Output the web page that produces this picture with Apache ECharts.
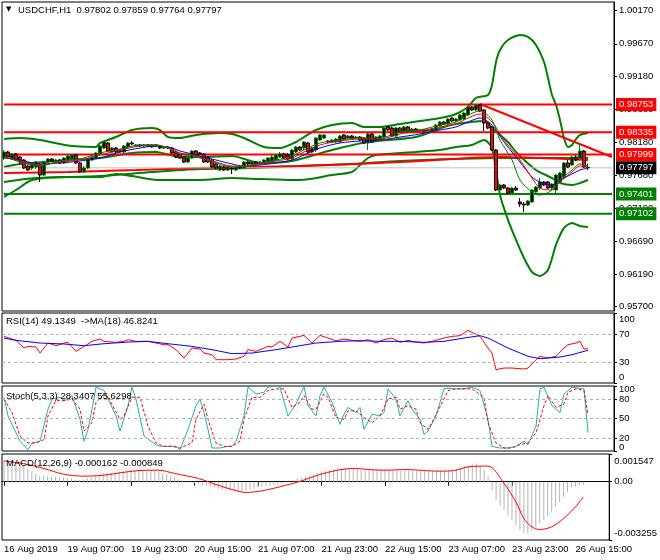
<!DOCTYPE html>
<html><head><meta charset="utf-8">
<script src="https://cdn.jsdelivr.net/npm/echarts@6/dist/echarts.min.js"></script>
<style>html,body{margin:0;padding:0;background:#fff}#c{width:660px;height:560px}</style>
</head><body><div id="c"></div>
<script>
const FONT = 'Liberation Sans';
const FS = 9.5;
const symbolName = 'USDCHF,H1';
const headerOHLC = [0.97802, 0.97859, 0.97764, 0.97797];
const xTickLabels = ['16 Aug 2019','19 Aug 07:00','19 Aug 23:00','20 Aug 15:00','21 Aug 07:00','21 Aug 23:00','22 Aug 15:00','23 Aug 07:00','23 Aug 23:00','26 Aug 15:00'];
const mainTicks = [1.00170,0.99670,0.99180,0.98680,0.98180,0.97680,0.97190,0.96690,0.96190,0.95700];
const rsiTicks = [100,70,30,0];
const rsiLevels = [70,30];
const stochEdgeTicks = [100,0];
const stochLevels = [80,50,20];
const macdTicks = [0.001547,0,-0.003255];
const slotCount = 153;
const redLevels = [0.98753, 0.98335, 0.97999];
const greenLevels = [0.97401, 0.97102];
const rsiText = 'RSI(14) 49.1349  ->MA(18) 46.8241';
const stochText = 'Stoch(5,3,3) 28.3407 55.6298';
const macdText = 'MACD(12,26,9) -0.000162 -0.000849';

// candles: [open, close, low, high]
const candles = [
[.97945,.98036,.97915,.98066],[.98036,.97960,.97945,.98051],[.97930,.98006,.97915,.98021],[.98006,.97915,.97900,.98021],
[.97960,.97885,.97855,.97976],[.97915,.97794,.97779,.97930],[.97824,.97764,.97749,.97840],[.97794,.97855,.97764,.97870],
[.97809,.97885,.97779,.97900],[.97840,.97688,.97583,.97870],[.97688,.97885,.97673,.97900],[.97885,.97930,.97870,.97945],
[.97930,.97900,.97885,.97945],[.97885,.97915,.97870,.97930],[.97915,.97870,.97855,.97930],[.97870,.97945,.97855,.97960],
[.97915,.97976,.97885,.97991],[.97930,.97991,.97915,.98006],[.97991,.97870,.97855,.98006],[.97870,.97734,.97719,.97885],
[.97734,.97794,.97719,.97824],[.97794,.97930,.97779,.97945],[.97915,.97960,.97900,.97976],[.97945,.98021,.97930,.98036],
[.98006,.98127,.97991,.98142],[.98096,.98187,.98081,.98202],[.98172,.98051,.98036,.98187],[.98036,.98096,.98021,.98111],
[.98096,.98036,.98021,.98111],[.98036,.98066,.98021,.98081],[.98036,.98127,.98021,.98142],[.98111,.98172,.98096,.98187],
[.98172,.98157,.98142,.98202],[.98127,.98142,.98111,.98157],[.98142,.98127,.98111,.98157],[.98127,.98142,.98111,.98157],
[.98142,.98127,.98111,.98157],[.98111,.98142,.98096,.98157],[.98142,.98127,.98111,.98157],[.98127,.98096,.98081,.98142],
[.98096,.98111,.98081,.98127],[.98111,.98096,.98081,.98127],[.98096,.98021,.98006,.98111],[.98036,.97960,.97945,.98051],
[.98006,.97945,.97930,.98021],[.97960,.97885,.97870,.97976],[.97885,.97945,.97870,.97960],[.97945,.98051,.97930,.98066],
[.98051,.97991,.97976,.98066],[.98021,.98006,.97991,.98036],[.98006,.97885,.97870,.98021],[.97960,.97885,.97870,.97976],
[.97915,.97809,.97794,.97930],[.97855,.97794,.97779,.97870],[.97764,.97824,.97749,.97840],[.97809,.97764,.97749,.97824],
[.97764,.97809,.97749,.97824],[.97794,.97779,.97704,.97809],[.97764,.97809,.97749,.97824],[.97809,.97794,.97779,.97824],
[.97794,.97885,.97779,.97900],[.97885,.97855,.97840,.97900],[.97855,.97885,.97840,.97900],[.97885,.97855,.97840,.97900],
[.97855,.97885,.97840,.97900],[.97870,.97915,.97855,.97930],[.97885,.97945,.97870,.97960],[.97885,.97960,.97870,.97991],
[.97915,.97991,.97900,.98006],[.97960,.98006,.97945,.98036],[.98006,.97945,.97930,.98021],[.97991,.97930,.97915,.98021],
[.97930,.98066,.97915,.98081],[.98036,.98111,.98021,.98127],[.98111,.98066,.98051,.98127],[.98096,.98187,.98066,.98202],
[.98172,.98036,.98021,.98187],[.98036,.98096,.98021,.98111],[.98066,.98247,.98036,.98262],[.98217,.98293,.98202,.98308],
[.98247,.98293,.98232,.98308],[.98202,.98187,.98172,.98217],[.98187,.98217,.98172,.98232],[.98187,.98232,.98172,.98247],
[.98187,.98278,.98172,.98293],[.98293,.98232,.98217,.98308],[.98247,.98278,.98232,.98293],[.98278,.98247,.98232,.98293],
[.98247,.98262,.98232,.98278],[.98262,.98217,.98202,.98278],[.98247,.98172,.98157,.98262],[.98172,.98308,.98066,.98323],
[.98308,.98187,.98172,.98323],[.98202,.98262,.98187,.98278],[.98217,.98278,.98202,.98293],[.98262,.98398,.98247,.98429],
[.98414,.98368,.98353,.98429],[.98398,.98278,.98262,.98414],[.98278,.98398,.98262,.98414],[.98398,.98338,.98323,.98414],
[.98338,.98414,.98323,.98429],[.98414,.98338,.98323,.98429],[.98338,.98383,.98323,.98398],[.98383,.98353,.98338,.98398],
[.98353,.98368,.98338,.98383],[.98368,.98353,.98338,.98383],[.98353,.98368,.98323,.98383],[.98353,.98383,.98338,.98398],
[.98368,.98444,.98353,.98459],[.98429,.98489,.98414,.98504],[.98489,.98459,.98444,.98504],[.98459,.98534,.98444,.98549],
[.98549,.98504,.98489,.98565],[.98504,.98534,.98489,.98549],[.98519,.98595,.98504,.98610],[.98534,.98625,.98519,.98640],
[.98595,.98716,.98580,.98731],[.98716,.98670,.98655,.98731],[.98670,.98746,.98655,.98761],[.98746,.98655,.98640,.98761],
[.98670,.98474,.98353,.98685],[.98474,.98398,.98383,.98489],[.98414,.98066,.98051,.98429],[.98066,.97462,.97447,.98081],
[.97462,.97537,.97447,.97552],[.97537,.97492,.97477,.97552],[.97492,.97416,.97401,.97507],[.97416,.97492,.97386,.97507],
[.97492,.97462,.97447,.97522],[.97281,.97250,.97205,.97341],[.97250,.97235,.97130,.97281],[.97235,.97296,.97220,.97311],
[.97281,.97462,.97266,.97477],[.97432,.97507,.97416,.97522],[.97492,.97583,.97462,.97643],[.97583,.97537,.97522,.97598],
[.97583,.97492,.97477,.97598],[.97492,.97552,.97462,.97568],[.97462,.97688,.97386,.97704],[.97583,.97719,.97568,.97734],
[.97658,.97870,.97643,.97885],[.97870,.97809,.97794,.97915],[.97840,.97960,.97824,.97976],[.97960,.97915,.97900,.97991],
[.97945,.98051,.97930,.98157],[.98051,.97809,.97794,.98066]
];

// [bar index, value] pairs
const bbUpper = [[0,.98232],[4,.98247],[9,.98217],[14,.98157],[17,.98127],[23,.98111],[24,.98172],[28,.98262],[32,.98368],[37,.98398],[39,.98368],[41,.98262],[44,.98247],[48,.98293],[54,.98323],[57,.98308],[60,.98247],[65,.98111],[69,.98096],[73,.98187],[75,.98262],[78,.98368],[82,.98444],[87,.98474],[90,.98414],[94,.98414],[99,.98459],[104,.98504],[109,.98549],[113,.98610],[116,.98716],[118,.98852],[121,.98897],[122,.99048],[123,.99395],[124,.99577],[126,.99728],[129,.99803],[131,.99773],[133,.99652],[135,.99395],[136,.99154],[137,.98897],[138,.98746],[139,.98519],[140,.98247],[141,.98111],[142,.98142],[143,.98232],[144,.98293],[146,.98323]];
const bbMiddle = [[0,.97810],[4,.97855],[10,.97885],[16,.97915],[24,.97945],[32,.98021],[38,.98036],[44,.97960],[49,.97960],[57,.97976],[64,.97870],[72,.97900],[82,.98066],[91,.98187],[103,.98262],[110,.98414],[113,.98459],[120,.98504],[122,.98398],[126,.98187],[128,.98036],[133,.97764],[137,.97643],[139,.97568],[142,.97537],[144,.97568],[146,.97613]];
const bbLower = [[0,.97357],[3,.97462],[7,.97613],[16,.97658],[24,.97658],[28,.97704],[32,.97673],[39,.97613],[49,.97613],[57,.97643],[64,.97628],[72,.97613],[74,.97613],[82,.97688],[87,.97734],[89,.97840],[91,.97945],[93,.97991],[103,.98036],[109,.98066],[113,.98111],[117,.98142],[120,.98217],[122,.98096],[124,.97386],[126,.97010],[128,.96708],[130,.96436],[132,.96224],[134,.96164],[136,.96255],[138,.96632],[140,.96889],[142,.96964],[144,.96919],[146,.96904]];
const longGreen = [[0,.97583],[8,.97643],[24,.97673],[37,.97734],[49,.97779],[62,.97794],[74,.97824],[87,.97855],[99,.97900],[112,.97930],[124,.97945],[137,.97945],[146,.97945]];
const longRed = [[0,.97719],[16,.97734],[33,.97764],[49,.97794],[74,.97824],[99,.97885],[112,.97930],[124,.97960],[134,.97945],[146,.97915]];
const maBlue = [[0,.97945],[4,.97915],[9,.97855],[14,.97870],[19,.97900],[24,.97945],[29,.98036],[34,.98096],[38,.98127],[42,.98096],[44,.98051],[47,.98006],[49,.97976],[53,.97915],[57,.97855],[60,.97824],[64,.97840],[68,.97870],[72,.97915],[75,.97991],[79,.98096],[84,.98172],[89,.98202],[94,.98217],[99,.98262],[104,.98308],[109,.98368],[113,.98414],[116,.98489],[119,.98549],[122,.98444],[125,.98187],[129,.97885],[132,.97658],[134,.97583],[137,.97537],[139,.97613],[142,.97704],[144,.97764],[146,.97794]];
const maRed = [[0,.97960],[4,.97900],[9,.97840],[14,.97885],[19,.97915],[24,.97991],[29,.98066],[34,.98127],[38,.98142],[42,.98081],[44,.98021],[47,.97991],[49,.97960],[53,.97885],[57,.97824],[60,.97824],[64,.97855],[68,.97900],[72,.97945],[75,.98036],[79,.98142],[84,.98202],[89,.98232],[94,.98232],[99,.98308],[104,.98353],[109,.98414],[113,.98459],[116,.98549],[119,.98610],[122,.98489],[125,.98217],[129,.97915],[132,.97643],[134,.97492],[137,.97462],[139,.97583],[142,.97734],[144,.97824],[146,.97809]];
const maGreen = [[0,.97976],[4,.97885],[9,.97824],[14,.97900],[19,.97930],[24,.98021],[29,.98081],[34,.98142],[38,.98142],[42,.98066],[44,.98006],[47,.97976],[49,.97945],[53,.97870],[57,.97809],[60,.97824],[64,.97870],[68,.97915],[72,.97976],[75,.98066],[79,.98172],[84,.98217],[89,.98247],[94,.98247],[99,.98338],[104,.98368],[109,.98444],[113,.98489],[116,.98595],[119,.98655],[122,.98519],[124,.98217],[127,.97915],[129,.97613],[132,.97432],[134,.97386],[137,.97462],[139,.97613],[142,.97764],[144,.97855],[146,.97824]];
const trendLine = [[119,.98761],[152,.97960]];

const rsiLine = [[0,66.6],[2,62.8],[3,60.9],[5,50.0],[6,52.3],[8,51.4],[9,42.8],[11,57.1],[13,53.3],[15,57.1],[16,58.1],[18,45.2],[20,52.3],[22,59.5],[24,62.8],[25,59.5],[28,58.1],[30,59.5],[31,61.9],[33,59.5],[36,59.5],[38,57.1],[40,54.7],[41,54.7],[43,47.6],[45,35.7],[47,50.0],[49,48.5],[50,42.8],[52,40.4],[53,33.3],[56,33.3],[58,34.3],[60,38.1],[61,47.6],[63,45.2],[66,52.3],[67,51.4],[69,59.5],[71,51.4],[72,64.2],[75,68.0],[77,57.1],[79,68.0],[81,64.2],[83,60.4],[85,62.8],[87,60.9],[89,59.5],[91,61.9],[93,57.1],[95,61.9],[97,64.2],[99,58.1],[101,60.9],[103,58.5],[105,57.1],[107,59.5],[110,64.2],[112,66.6],[114,67.6],[116,75.2],[117,72.3],[119,66.6],[121,50.0],[122,42.8],[123,19.0],[125,21.4],[127,21.4],[130,20.0],[131,21.4],[133,33.3],[134,38.1],[136,35.7],[138,38.1],[140,50.0],[141,54.7],[143,57.1],[144,59.5],[145,48.5],[146,49.13]];
const rsiMa = [[0,64.2],[3,60.9],[9,57.1],[15,55.7],[20,53.3],[25,56.1],[31,58.5],[36,59.5],[41,56.1],[47,52.3],[52,47.6],[57,41.9],[62,42.8],[68,47.6],[73,52.3],[78,57.1],[84,59.5],[89,60.4],[94,59.5],[99,59.5],[105,58.1],[110,59.5],[115,64.2],[119,67.6],[121,64.2],[126,50.0],[131,38.1],[134,34.7],[139,37.1],[142,40.4],[145,45.2],[146,46.82]];
const stochK = [[0,82.6],[1,54.0],[3,28.0],[4,15.0],[6,2.0],[7,12.4],[9,15.0],[11,64.4],[12,80.0],[14,82.6],[15,77.4],[16,80.0],[17,85.2],[19,48.8],[20,15.0],[21,33.2],[22,64.4],[23,98.2],[25,93.0],[26,80.0],[28,54.0],[29,30.6],[31,69.6],[32,98.2],[33,80.0],[35,22.8],[38,9.8],[39,7.2],[41,7.2],[43,7.2],[44,2.0],[46,33.2],[48,69.6],[49,80.0],[50,59.2],[51,33.2],[52,4.6],[54,4.6],[56,7.2],[57,7.2],[58,15.0],[60,54.0],[61,98.2],[63,87.8],[65,90.4],[66,98.2],[68,99.8],[69,98.2],[71,54.0],[73,72.2],[75,99.8],[76,69.6],[78,54.0],[79,85.2],[80,98.2],[82,74.8],[84,41.0],[85,56.6],[86,67.0],[88,59.2],[89,67.0],[90,33.2],[92,56.6],[94,54.0],[95,59.2],[96,95.6],[98,80.0],[99,54.0],[101,77.4],[102,64.4],[104,48.8],[105,25.4],[106,30.6],[108,54.0],[110,95.6],[111,96.6],[113,95.6],[115,95.6],[117,98.2],[119,93.0],[121,48.8],[122,7.2],[124,4.6],[126,4.6],[128,7.2],[130,15.0],[131,9.8],[133,38.4],[134,95.6],[135,98.2],[137,69.6],[139,59.2],[140,87.8],[142,98.2],[143,97.2],[145,95.6],[146,28.34]];
const stochD = [[0,80.0],[2,59.2],[4,22.8],[6,12.4],[8,12.4],[10,17.6],[11,54.0],[13,77.4],[15,77.4],[17,80.0],[19,64.4],[20,30.6],[22,43.6],[23,74.8],[25,87.8],[26,82.6],[29,48.8],[30,54.0],[32,82.6],[34,82.6],[36,38.4],[38,12.4],[40,7.2],[42,7.2],[44,4.6],[47,12.4],[48,48.8],[50,72.2],[51,48.8],[53,12.4],[55,7.2],[57,7.2],[59,15.0],[60,48.8],[62,82.6],[64,82.6],[66,93.0],[68,95.6],[70,95.6],[72,67.0],[74,74.8],[75,85.2],[77,64.4],[78,64.4],[80,87.8],[81,82.6],[83,51.4],[85,48.8],[86,61.8],[88,61.8],[90,51.4],[92,43.6],[94,54.0],[96,80.0],[98,82.6],[99,64.4],[101,69.6],[103,64.4],[104,43.6],[106,33.2],[107,43.6],[110,80.0],[111,93.0],[113,95.6],[115,95.6],[117,95.6],[120,82.6],[121,43.6],[123,12.4],[125,4.6],[127,4.6],[129,9.8],[131,12.4],[133,28.0],[135,69.6],[136,85.2],[138,67.0],[140,72.2],[141,90.4],[143,95.6],[145,93.0],[146,55.63]];
const macdHist = [
0.00120,0.00116,0.00111,0.00107,0.00096,0.00087,0.00070,0.00059,0.00046,0.00035,
0.00033,0.00031,0.00029,0.00027,0.00025,0.00023,0.00020,0.00018,0.00012,0.00008,
0.00012,0.00018,0.00023,0.00029,0.00036,0.00046,0.00049,0.00051,0.00053,0.00055,
0.00057,0.00061,0.00064,0.00068,0.00068,0.00066,0.00064,0.00062,0.00061,0.00057,
0.00049,0.00042,0.00031,0.00023,0.00014,0.00005,0.00002,-0.00001,-0.00008,-0.00012,
-0.00018,-0.00021,-0.00027,-0.00032,-0.00038,-0.00044,-0.00047,-0.00051,-0.00053,-0.00055,
-0.00053,-0.00049,-0.00044,-0.00040,-0.00034,-0.00030,-0.00027,-0.00023,-0.00019,-0.00016,
-0.00010,-0.00005,0.00001,0.00008,0.00018,0.00023,0.00029,0.00035,0.00042,0.00049,
0.00057,0.00061,0.00064,0.00068,0.00072,0.00074,0.00074,0.00074,0.00072,0.00070,
0.00066,0.00064,0.00066,0.00068,0.00068,0.00070,0.00070,0.00066,0.00064,0.00062,
0.00061,0.00062,0.00064,0.00062,0.00061,0.00061,0.00061,0.00062,0.00064,0.00062,
0.00061,0.00062,0.00064,0.00068,0.00072,0.00079,0.00087,0.00092,0.00098,0.00101,
0.00087,0.00064,0.00027,-0.00047,-0.00103,-0.00131,-0.00159,-0.00187,-0.00215,-0.00243,
-0.00271,-0.00286,-0.00289,-0.00274,-0.00256,-0.00234,-0.00215,-0.00192,-0.00168,-0.00140,
-0.00113,-0.00085,-0.00057,-0.00032,-0.00022,-0.00018,-0.000162];
const macdSignal = [[0,0.00116],[5,0.00101],[10,0.00074],[15,0.00042],[20,0.00031],[25,0.00036],[31,0.00055],[36,0.00064],[39,0.00064],[43,0.00046],[49,0.00018],[54,-0.00020],[58,-0.00047],[61,-0.00060],[65,-0.00051],[71,-0.00020],[75,0.00005],[79,0.00036],[84,0.00064],[88,0.00074],[92,0.00068],[96,0.00064],[101,0.00068],[105,0.00064],[109,0.00059],[113,0.00061],[117,0.00083],[122,0.00087],[126,-0.00010],[129,-0.00113],[131,-0.00206],[133,-0.00252],[135,-0.00267],[138,-0.00252],[141,-0.00206],[144,-0.00140],[146,-0.000849]];

const allCandles = candles.concat([[headerOHLC[0], headerOHLC[3], headerOHLC[2], headerOHLC[1]]]);
const slots = [];
for (let i = 0; i < slotCount; i++) slots.push(String(i));

const G = [
  {top:2, height:309},
  {top:313, height:70},
  {top:386, height:65},
  {top:454, height:86}
];
const isTick = (idx) => idx % 16 === 0;

const txt = {fontFamily: FONT, fontSize: FS, color: '#000'};
function xAx(k, show) {
  return {
    type:'category', gridIndex:k, data:slots, boundaryGap:true,
    axisLine:{show:show, lineStyle:{color:'#000'}},
    axisTick:{show:show, alignWithLabel:true, interval:(i)=>isTick(i), length:4, lineStyle:{color:'#000'}},
    axisLabel:{show:show, interval:(i)=>isTick(i), formatter:(v, i)=>xTickLabels[i/16] || '', align:'left', margin:4, ...txt},
    splitLine:{show:false}
  };
}
function yAx(k, min, max, ticks, fmt, lh, lineShow) {
  return {
    type:'value', gridIndex:k, position:'right', min:min, max:max,
    axisLine:{show:lineShow !== false, lineStyle:{color:'#000'}},
    axisTick:{show:true, length:3, customValues:ticks, lineStyle:{color:'#000'}},
    axisLabel:{show:true, customValues:ticks, formatter:fmt, margin:5, lineHeight:lh, showMinLabel:true, showMaxLabel:true, ...txt},
    splitLine:{show:false}
  };
}
const edgeFmt = (top, bot, f) => (v) => v === top ? '\n' + f(v) : (v === bot ? f(v) + '\n' : f(v));

function ln(name, data, color, width, xi, extra) {
  return Object.assign({
    name:name, type:'line', data:data, xAxisIndex:xi, yAxisIndex:xi,
    showSymbol:false, symbol:'none', lineStyle:{color:color, width:width}, itemStyle:{color:color},
    silent:true, animation:false, z:2
  }, extra || {});
}
// horizontal price levels, each as its own line across the plot with a price tag at the right
function level(v, color, tagBg, width) {
  return ln('level ' + v, [[0, v], [slotCount - 1, v]], color, width, 0, {
    clip:false,
    endLabel:{show:true, formatter:v.toFixed(5), backgroundColor:tagBg, color:'#fff',
              padding:[2,3,1,3], distance:4, fontFamily:FONT, fontSize:FS}
  });
}
const dashed = (vals) => ({
  symbol:'none', silent:true, animation:false,
  lineStyle:{color:'#b0b0b0', type:[3,3], width:1},
  label:{show:false},
  data: vals.map(v => ({yAxis:v}))
});

const option = {
  animation:false,
  backgroundColor:'#fff',
  textStyle:{fontFamily:FONT},
  title:[
    {text:'\u25BC', left:6, top:6, padding:0, textStyle:{fontFamily:'DejaVu Sans', fontSize:7, fontWeight:'normal', color:'#000'}},
    {text:symbolName + '  ' + headerOHLC.map(v=>v.toFixed(5)).join(' '), left:18, top:5, padding:0, textStyle:{...txt, fontWeight:'normal'}},
    {text:rsiText, left:6, top:316, padding:0, textStyle:{...txt, fontWeight:'normal'}},
    {text:stochText, left:6, top:391, padding:0, textStyle:{...txt, fontWeight:'normal'}},
    {text:macdText, left:6, top:458, padding:0, textStyle:{...txt, fontWeight:'normal'}}
  ],
  grid: G.map(g => ({left:2, width:612, top:g.top, height:g.height, show:true, borderColor:'#000', borderWidth:1, backgroundColor:'#fff'})),
  xAxis:[xAx(0,false), xAx(1,false), xAx(2,false), xAx(3,true)],
  yAxis:[
    yAx(0, 0.95635, 1.00301, mainTicks, (v)=>v.toFixed(5), 12),
    yAx(1, 0, 100, rsiTicks, edgeFmt(100, 0, String), 12),
    yAx(2, 0, 100, stochLevels, String, 12),
    yAx(3, -0.003255, 0.001547, macdTicks, edgeFmt(0.001547, -0.003255, (v)=> v === 0 ? '0.00' : v.toFixed(6)), 14),
    yAx(2, 0, 100, stochEdgeTicks, edgeFmt(100, 0, String), 7, false)
  ],
  series:[
    ln('BB upper', bbUpper, '#008000', 2, 0, {smooth:0.25}),
    ln('BB middle', bbMiddle, '#008000', 2, 0, {smooth:0.25}),
    ln('BB lower', bbLower, '#008000', 2, 0, {smooth:0.25}),
    ln('Long MA green', longGreen, '#008000', 2, 0, {smooth:0.3}),
    ln('Long MA red', longRed, '#ff0000', 2, 0, {smooth:0.3}),
    level(headerOHLC[3], '#c0c0c0', '#000000', 1)
  ].concat(redLevels.map(v => level(v, '#ff0000', '#ff0000', 2)))
   .concat(greenLevels.map(v => level(v, '#008000', '#008000', 2)))
   .concat([
    ln('Trend', trendLine, '#ff0000', 2, 0),
    {
      name:'USDCHF', type:'candlestick', data:allCandles, xAxisIndex:0, yAxisIndex:0,
      barWidth:3, silent:true, animation:false, z:3,
      itemStyle:{color:'#000000', color0:'#ff0000', borderColor:'#008000', borderColor0:'#000000', borderWidth:1}
    },
    ln('MA blue', maBlue, '#0000ff', 1, 0, {smooth:0.3, z:4}),
    ln('MA red', maRed, '#ff0000', 1, 0, {smooth:0.3, z:4}),
    ln('MA green', maGreen, '#008000', 1, 0, {smooth:0.3, z:4}),

    ln('RSI', rsiLine, '#ff0000', 1, 1, {markLine:dashed(rsiLevels)}),
    ln('RSI MA', rsiMa, '#0000ff', 1, 1),

    ln('Stoch main', stochK, '#20b2aa', 1, 2, {markLine:dashed(stochLevels)}),
    ln('Stoch signal', stochD, '#ff0000', 1, 2, {lineStyle:{color:'#ff0000', width:1, type:[3,2]}}),

    {name:'MACD', type:'bar', data:macdHist, xAxisIndex:3, yAxisIndex:3, barWidth:1, itemStyle:{color:'#b4b4b4'}, silent:true, animation:false},
    ln('MACD signal', macdSignal, '#ff0000', 1, 3, {smooth:0.3, z:3})
  ])
};
const chart = echarts.init(document.getElementById('c'), null, {renderer:'canvas'});
chart.setOption(option);
</script>
</body></html>
